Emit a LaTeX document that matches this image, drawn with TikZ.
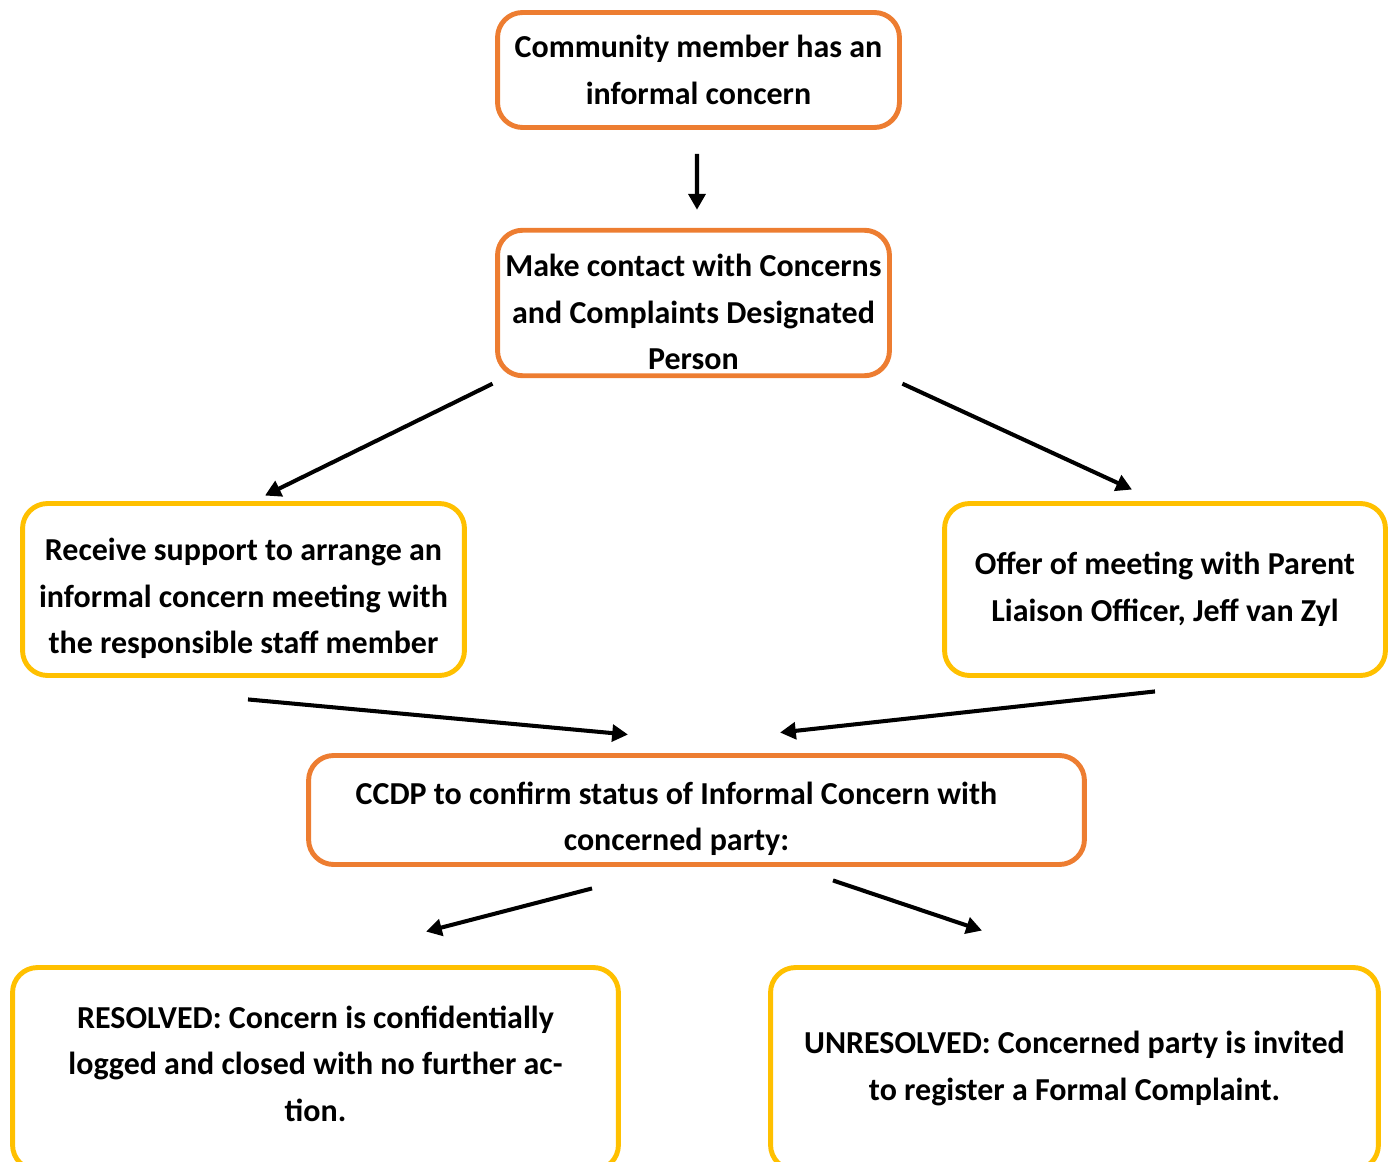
\documentclass[tikz,border=0pt]{standalone}
\usepackage{fontspec}
\setmainfont{Carlito}
\usetikzlibrary{calc,positioning,arrows.meta,shapes}
\definecolor{concernorange}{HTML}{ED7D31}
\definecolor{outcomeyellow}{HTML}{FFC000}
\newcommand{\topstrut}{\rule{0pt}{23pt}}
\newcommand{\botstrut}{\rule[-5.7pt]{0pt}{5.7pt}}
\newcommand{\leftgap}{\hspace*{0.8cm}}
\tikzset{
>={Triangle[length=9pt,width=9.5pt]},
  concern/.style={
    rectangle,
    rounded corners=0.5cm,
    % fill=white,
    draw=concernorange, line width=2.8pt,
    align=center,
    font=\fontsize{18.2}{26.5}\selectfont\bfseries},
  outcome/.style={concern, draw=outcomeyellow},
  line/.style={draw, line width=2.3pt, ->},
}

\begin{document}
\begin{tikzpicture}[x=0.02cm, y=-0.02cm]
    \useasboundingbox (0,0) rectangle (1394,1162);
    \node[concern, minimum width=8.04cm, minimum height=2.3cm] (community) at (698.5,70) {Community member has an\\informal concern};
    \node[concern, minimum width=7.84cm, minimum height=2.9cm] (contact) at (693.5,303) {\topstrut Make contact with Concerns\\and Complaints Designated\\Person};
    \node[outcome, minimum width=8.84cm, minimum height=3.44cm] (support) at (243.5,589.5) {\topstrut Receive support to arrange an\\informal concern meeting with\\the responsible staff member};
    \node[outcome, minimum width=8.82cm, minimum height=3.44cm] (liaison) at (1165,589.5) {Offer of meeting with Parent\\Liaison Officer, Jeff van Zyl};
    \node[concern, minimum width=15.52cm, minimum height=2.18cm] (ccdp) at (696.5,810) {\topstrut CCDP to confirm status of Informal Concern with\leftgap\\concerned party:\leftgap};
    \node[outcome, minimum width=12.12cm, minimum height=4.05cm] (resolved) at (315.5,1068.75) {RESOLVED: Concern is confidentially\\logged and closed with no further ac-\\tion.\botstrut};
    \node[outcome, minimum width=12.16cm, minimum height=4.05cm] (unresolved) at (1074.5,1068.75) {UNRESOLVED: Concerned party is invited\\to register a Formal Complaint.};

    % connectors
    \draw[line] ($(community.south)+(-1.5,24)$) -- ($(contact.north)+(3.5,-18)$);
    \draw[line] ($(contact.south west)+(-2.5,5.5)$) -- ($(support.north)+(21.5,-5.5)$);
    \draw[line] ($(contact.south east)+(10.5,5.5)$) -- ($(liaison.north)+(-33,-11.5)$);
    \draw[line] ($(support.south)+(4.5,21.5)$) -- ($(ccdp.north)+(-68.5,-18.5)$);
    \draw[line] ($(liaison.south)+(-10,13.5)$) -- ($(ccdp.north)+(83.5,-20.5)$);
    \draw[line] ($(ccdp.south)+(-104.5,21.5)$) -- ($(resolved.north)+(110.5,-33.5)$);
    \draw[line] ($(ccdp.south)+(136.5,13.5)$) -- ($(unresolved.north)+(-92.5,-34.5)$);
  \end{tikzpicture}
\end{document}
